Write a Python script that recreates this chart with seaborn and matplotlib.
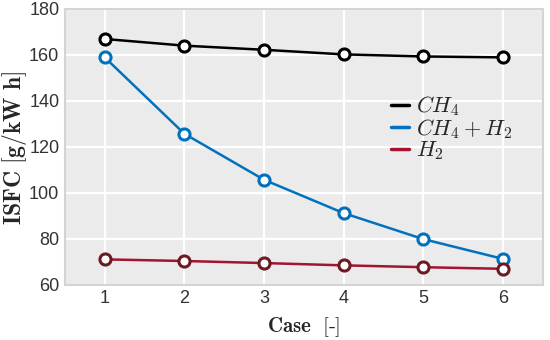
import numpy as np
import pandas as pd
import matplotlib
matplotlib.use("Agg")
import matplotlib.pyplot as plt
import seaborn as sns

cases = [1, 2, 3, 4, 5, 6]
isfc_ch4 = [166.9, 164.0, 162.2, 160.2, 159.3, 158.9]
isfc_ch4_h2 = [158.9, 125.7, 105.7, 91.2, 79.9, 71.3]
isfc_h2 = [71.1, 70.4, 69.5, 68.5, 67.7, 67.0]

labels = [r"$CH_4$", r"$CH_4 + H_2$", r"$H_2$"]
colors = ["#000000", "#0072BD", "#A2142F"]
edge_colors = ["#000000", "#0072BD", "#6E1A22"]

df = pd.DataFrame({
    "case": cases * 3,
    "isfc": isfc_ch4 + isfc_ch4_h2 + isfc_h2,
    "fuel": [labels[0]] * 6 + [labels[1]] * 6 + [labels[2]] * 6,
})

sns.set_theme(style="darkgrid", rc={
    "axes.facecolor": "#EBEBEB",
    "axes.edgecolor": "#D4D4D4",
    "grid.color": "white",
    "grid.linewidth": 1.6,
})
plt.rcParams["font.family"] = ["Liberation Sans", "DejaVu Sans"]
plt.rcParams["mathtext.fontset"] = "cm"

fig = plt.figure(figsize=(5.5, 3.4), dpi=100)
ax = fig.add_axes([0.118, 0.162, 0.869, 0.812])

for lab, col, ec in zip(labels, colors, edge_colors):
    sub = df[df["fuel"] == lab]
    sns.lineplot(data=sub, x="case", y="isfc", ax=ax, color=col, lw=1.8,
                 label=lab, legend=False)
    ax.plot(sub["case"], sub["isfc"], ls="none", marker="o", ms=8,
            mfc="white", mec=ec, mew=2.2, zorder=3)

ax.set_xlim(0.5, 6.5)
ax.set_ylim(60, 180)
ax.set_xticks(cases)
ax.set_yticks(np.arange(60, 181, 20))
ax.tick_params(labelsize=13, colors="#333333", length=0, pad=4)
for sp in ax.spines.values():
    sp.set_visible(True)
    sp.set_linewidth(1.5)

ax.set_xlabel(r"$\mathbf{Case\ \ [\text{-}]}$", fontsize=15)
ax.xaxis.set_label_coords(0.5, -0.11)
ax.set_ylabel(r"$\mathbf{ISFC\ [g/kW\ h]}$", fontsize=17)
ax.yaxis.set_label_coords(-0.076, 0.495)

handles = [plt.Line2D([], [], color=c, lw=2.5) for c in colors]
ax.legend(handles, labels, loc="upper left", bbox_to_anchor=(0.66, 0.73),
          frameon=False, fontsize=16, handlelength=0.8, handletextpad=0.3,
          labelspacing=-0.06, borderpad=0)

fig.savefig("out.png", dpi=100)
